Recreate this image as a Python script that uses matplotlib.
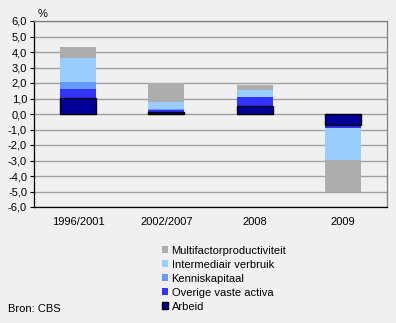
import matplotlib.pyplot as plt
import numpy as np

plt.rcParams['font.family'] = ['Liberation Sans', 'DejaVu Sans']

# data
periods = ['1996/2001', '2002/2007', '2008', '2009']
arbeid = [1.03, 0.13, 0.54, -0.73]
overige_vaste_activa = [0.60, 0.10, 0.56, -0.15]
kenniskapitaal = [0.45, 0.08, 0.0, 0.0]
intermediair_verbruik = [1.55, 0.48, 0.47, -2.07]
multifactorproductiviteit = [0.71, 1.20, 0.32, -2.08]

series = [
    ('Arbeid', arbeid, '#000099'),
    ('Overige vaste activa', overige_vaste_activa, '#3333FF'),
    ('Kenniskapitaal', kenniskapitaal, '#6699FF'),
    ('Intermediair verbruik', intermediair_verbruik, '#99CCFF'),
    ('Multifactorproductiviteit', multifactorproductiviteit, '#ADADAD'),
]

bg = '#F0F0F0'
fig = plt.figure(figsize=(3.96, 3.23), dpi=100, facecolor=bg)
ax = fig.add_axes([34/396, 1 - 207/323, 353/396, 186/323], facecolor=bg)

x = np.arange(len(periods))
width = 0.41
pos_base = np.zeros(len(periods))
neg_base = np.zeros(len(periods))
handles = {}
for name, vals, color in series:
    vals = np.array(vals)
    base = np.where(vals >= 0, pos_base, neg_base)
    if name == 'Arbeid':
        b = ax.bar(x, vals, width, bottom=base, color=color, edgecolor='black',
                   linewidth=1.0, zorder=3, label=name)
    else:
        b = ax.bar(x, vals, width, bottom=base, color=color, linewidth=0,
                   zorder=2, label=name)
    handles[name] = b
    pos_base += np.where(vals >= 0, vals, 0)
    neg_base += np.where(vals < 0, vals, 0)

ax.set_xlim(-0.5, 3.5)
ax.set_ylim(-6, 6)
yt = np.arange(-6, 7, 1)
ax.set_yticks(yt)
ax.set_yticklabels([f'{v:.1f}'.replace('.', ',') for v in yt], fontsize=8)
ax.set_xticks(x)
ax.set_xticklabels(periods, fontsize=8)
ax.tick_params(axis='x', length=0, pad=7)
ax.tick_params(axis='y', length=3, width=0.8, pad=2)
ax.grid(axis='y', color='#A0A0A0', linewidth=1, zorder=0)

for s in ['left', 'bottom']:
    ax.spines[s].set_color('black')
    ax.spines[s].set_linewidth(0.9)
for s in ['top', 'right']:
    ax.spines[s].set_color('#808080')
    ax.spines[s].set_linewidth(0.9)

fig.text(38/396, 1 - 14/323, '%', fontsize=8, va='center', ha='left')
fig.text(8/396, 1 - 309/323, 'Bron: CBS', fontsize=8, va='center', ha='left')

order = ['Multifactorproductiviteit', 'Intermediair verbruik', 'Kenniskapitaal',
         'Overige vaste activa', 'Arbeid']
leg = fig.legend([handles[n] for n in order], order, loc='upper left',
                 bbox_to_anchor=(156/396, 1 - 240/323), frameon=False, fontsize=8,
                 handlelength=0.6, handleheight=0.6, handletextpad=0.3,
                 labelspacing=0.36, borderpad=0)

fig.savefig('out.png', dpi=100, facecolor=bg)
